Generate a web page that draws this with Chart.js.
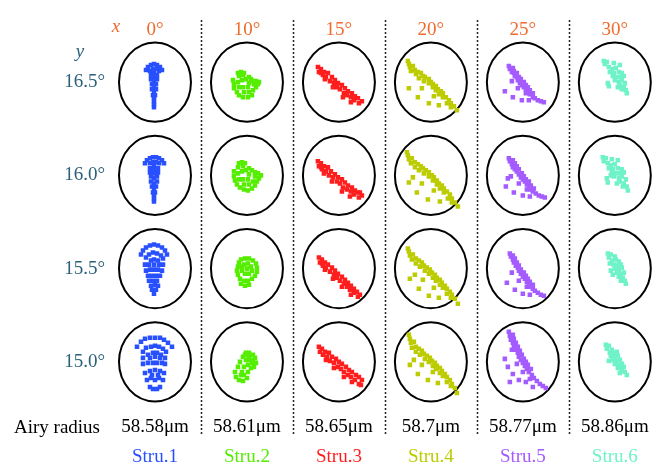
<!DOCTYPE html>
<html><head><meta charset="utf-8">
<script src="https://cdn.jsdelivr.net/npm/chart.js@4"></script>
<style>html,body{margin:0;padding:0;background:#fff}</style>
</head><body>
<canvas id="c" width="664" height="470"></canvas>
<script>
// Field angles (columns = x field, rows = y field, listed top to bottom)
const fieldX = ['0°','10°','15°','20°','25°','30°'];
const fieldY = ['16.5°','16.0°','15.5°','15.0°'];
const airyRadius = ['58.58μm','58.61μm','58.65μm','58.7μm','58.77μm','58.86μm'];
const structures = ['Stru.1','Stru.2','Stru.3','Stru.4','Stru.5','Stru.6'];
const strucColors = ['#2850ff','#55ee00','#ff1e1e','#bccc00','#a45bff','#6ff2c8'];

// Spot offsets [dx, dy(down)] relative to each cell centre, rows 16.5,16.0,15.5,15.0
const stru1 = [
 [[-9,-12],[-7,-15],[-4,-17],[-1,-18],[2,-17],[5,-15],[7,-12],[-5,-11],[-2,-13],[1,-13],[4,-11],[-1,-9],[-4,-7],[2,-7],[-1,-5],[-4,-3],[2,-3],[-1,-1],[-3,2],[1,2],[-1,4],[-3,7],[1,7],[-1,10],[-2,13],[0,13],[-1,16],[-1,19],[-1,22],[-1,25]],
 [[-10,-12],[-8,-15],[-5,-17],[-2,-18],[1,-18],[4,-17],[7,-15],[9,-12],[-5,-12],[-2,-13],[1,-13],[4,-12],[-1,-9],[-5,-7],[3,-7],[-1,-6],[-5,-3],[3,-3],[-1,-2],[-4,1],[2,1],[-1,3],[-4,6],[2,6],[-1,8],[-3,11],[1,11],[-1,14],[-2,17],[0,17],[-1,20],[-1,23],[-1,26]],
 [[-14,-14],[-12,-18],[-9,-21],[-5,-23],[-1,-24],[3,-23],[7,-21],[10,-18],[12,-14],[-9,-11],[-6,-14],[-2,-16],[2,-15],[6,-13],[8,-10],[-4,-8],[-1,-9],[3,-8],[-10,-4],[-6,-4],[-1,-4],[4,-4],[8,-4],[-9,2],[-5,1],[-1,1],[3,1],[7,2],[-7,7],[-3,7],[1,7],[5,7],[-6,12],[-2,12],[2,12],[-4,17],[0,16],[3,17],[-3,21],[1,21],[-1,25]],
 [[-18,-15],[-14,-20],[-10,-23],[-5,-24],[0,-24],[5,-24],[9,-22],[13,-19],[17,-15],[-12,-10],[-9,-14],[-4,-15],[0,-16],[4,-15],[8,-13],[11,-10],[-7,-7],[-2,-9],[2,-9],[6,-7],[-12,-4],[-5,-4],[0,-5],[5,-4],[10,-4],[-12,2],[-7,1],[-2,1],[2,1],[7,1],[10,2],[-10,11],[-5,9],[0,8],[5,9],[9,11],[-3,13],[3,13],[-8,18],[-4,16],[0,18],[4,16],[8,18],[-5,25],[-2,27],[2,27],[5,25]]
];
const stru2 = [
 [[-9,-9],[-6,-10],[-3,-9],[-8,-6],[-4,-7],[2,-5],[4,-3],[6,-1],[9,-1],[12,0],[7,2],[11,2],[9,5],[-14,-2],[-13,2],[-13,6],[-10,10],[-8,13],[-4,15],[1,15],[5,13],[-9,0],[-5,-2],[-1,-3],[2,1],[1,5],[-4,5],[-8,5],[-3,10],[2,10],[6,8]],
 [[-8,-12],[-5,-13],[-2,-12],[-9,-8],[-4,-9],[2,-7],[5,-5],[8,-3],[11,-2],[14,0],[8,1],[12,3],[10,6],[-13,-4],[-13,1],[-12,5],[-10,9],[-7,12],[-3,14],[1,15],[5,13],[8,10],[-9,-2],[-5,-4],[-1,-5],[2,-1],[1,4],[-4,4],[-8,4],[-3,9],[2,9],[6,6]],
 [[-6,-9],[-2,-10],[2,-10],[6,-8],[9,-5],[10,-1],[10,3],[8,7],[5,10],[1,12],[-3,12],[-7,10],[-9,6],[-10,2],[-9,-2],[-8,-6],[-3,-4],[1,-5],[4,-2],[5,2],[2,5],[-2,5],[-5,2],[-5,-2],[0,0],[-6,15],[-2,17],[2,16]],
 [[-1,-9],[2,-9],[6,-7],[8,-4],[9,1],[7,5],[-4,-5],[-7,0],[-9,5],[-12,10],[-11,15],[-8,18],[-4,19],[0,16],[-1,-2],[2,-2],[1,3],[-3,5],[-5,10],[-3,13],[1,10],[4,6],[5,1],[-6,13],[2,-5],[6,-2],[-2,-7]]
];
const stru3 = [
 [[-21,-15],[-18,-13],[-15,-10],[-11,-9],[-7,-5],[-4,-2],[-1,1],[3,3],[6,6],[9,9],[13,11],[16,14],[19,16],[23,19],[-20,-10],[-16,-7],[-13,-5],[-9,-1],[-5,1],[-2,5],[1,7],[5,11],[8,13],[12,15],[15,18],[20,21],[-14,-3],[-6,5],[4,15],[12,20],[-18,-9]],
 [[-21,-14],[-18,-12],[-15,-9],[-11,-8],[-8,-4],[-4,-1],[-1,2],[3,4],[6,7],[9,10],[13,12],[16,15],[19,17],[23,20],[-20,-9],[-17,-6],[-13,-4],[-10,0],[-6,2],[-2,6],[1,8],[4,12],[8,14],[12,16],[15,19],[20,22],[-15,-2],[-7,6],[3,16],[11,21],[-18,-8],[21,17]],
 [[-20,-11],[-17,-9],[-14,-6],[-11,-4],[-7,-1],[-4,2],[-1,5],[3,8],[6,11],[9,14],[12,17],[15,20],[18,23],[21,26],[-19,-6],[-16,-3],[-13,-1],[-9,3],[-5,6],[-2,9],[1,12],[5,15],[8,18],[11,21],[15,24],[19,28],[-14,1],[-6,10],[3,18],[12,26],[-17,-5]],
 [[-20,-15],[-17,-13],[-14,-10],[-10,-9],[-7,-5],[-3,-3],[0,0],[3,2],[7,5],[10,8],[13,10],[17,13],[20,15],[23,18],[-19,-10],[-16,-7],[-12,-5],[-9,-1],[-5,1],[-1,5],[2,7],[5,10],[9,13],[12,15],[16,18],[20,22],[-13,-2],[-5,6],[5,15],[13,20],[22,23]]
];
const stru4 = [
 [[-23,-21],[-22,-18],[-21,-15],[-18,-16],[-16,-12],[-13,-10],[-10,-9],[-8,-6],[-6,-5],[-2,-3],[0,0],[2,2],[5,4],[7,7],[10,9],[12,11],[15,15],[18,18],[20,21],[23,24],[26,28],[-20,-11],[-15,-8],[-12,-4],[-7,-1],[-2,1],[2,5],[5,8],[8,12],[12,15],[16,21],[20,25],[-22,6],[-13,15],[-9,6],[-2,21],[8,23],[3,14]],
 [[-24,-23],[-23,-20],[-22,-16],[-19,-17],[-16,-13],[-13,-11],[-10,-9],[-8,-7],[-5,-5],[-2,-3],[1,0],[3,2],[6,5],[8,8],[11,10],[13,13],[16,16],[19,19],[21,23],[24,27],[27,31],[-20,-12],[-16,-8],[-12,-5],[-7,-2],[-2,1],[2,5],[6,9],[9,13],[13,17],[17,23],[21,27],[-22,7],[-14,17],[-9,8],[-3,24],[9,26],[3,15],[-18,2]],
 [[-23,-20],[-22,-17],[-21,-13],[-18,-14],[-15,-10],[-12,-8],[-9,-6],[-7,-3],[-4,-1],[-1,1],[1,4],[4,6],[6,9],[9,11],[11,14],[14,17],[16,20],[19,23],[21,26],[24,30],[27,35],[-19,-9],[-15,-5],[-11,-2],[-6,2],[-2,5],[2,9],[5,12],[9,16],[12,19],[16,25],[20,29],[-21,10],[-12,20],[-8,11],[-2,27],[8,29],[3,19],[-16,6]],
 [[-22,-27],[-21,-23],[-20,-19],[-17,-20],[-15,-15],[-12,-13],[-9,-11],[-7,-8],[-4,-6],[-1,-4],[1,-1],[4,1],[6,4],[9,6],[11,9],[14,12],[16,15],[19,18],[21,22],[24,26],[26,31],[-19,-14],[-15,-10],[-11,-7],[-6,-3],[-2,0],[2,4],[5,7],[9,11],[12,14],[16,20],[20,24],[-21,3],[-13,12],[-9,3],[-3,18],[7,21],[2,10],[-17,-2]]
];
const stru5 = [
 [[-14,-16],[-13,-13],[-11,-10],[-9,-9],[-8,-6],[-6,-5],[-5,-2],[-3,1],[-1,3],[1,5],[3,7],[5,10],[7,12],[10,15],[12,16],[15,18],[18,19],[21,20],[-10,-14],[-9,-11],[-6,-9],[-4,-5],[-2,-3],[1,0],[3,3],[5,5],[7,8],[10,11],[-18,9],[-11,-1],[-10,15],[-5,6],[-1,18],[3,11],[6,18]],
 [[-14,-17],[-13,-14],[-11,-11],[-10,-8],[-8,-6],[-6,-4],[-4,-1],[-2,2],[0,4],[2,6],[4,9],[6,11],[8,14],[10,16],[13,18],[16,20],[19,21],[22,22],[-10,-15],[-8,-12],[-6,-9],[-4,-6],[-1,-2],[1,1],[3,4],[6,6],[8,10],[11,13],[-17,11],[-12,1],[-9,17],[-4,8],[0,20],[4,14],[7,21],[-15,3]],
 [[-13,-15],[-12,-12],[-10,-9],[-9,-6],[-7,-3],[-5,-1],[-4,2],[-2,5],[0,8],[2,10],[4,13],[6,15],[8,18],[10,20],[12,22],[15,24],[18,26],[21,27],[-10,-13],[-8,-10],[-6,-6],[-4,-3],[-2,1],[1,4],[3,7],[5,10],[7,13],[10,16],[-16,14],[-11,4],[-8,21],[-4,12],[0,25],[4,18],[7,26]],
 [[-14,-30],[-13,-26],[-12,-22],[-10,-19],[-9,-15],[-7,-12],[-5,-9],[-4,-5],[-2,-2],[0,1],[2,4],[4,7],[6,10],[9,13],[11,16],[14,19],[17,22],[20,24],[23,26],[-10,-27],[-9,-23],[-7,-19],[-5,-15],[-3,-11],[-1,-7],[1,-3],[3,0],[5,3],[8,7],[-18,-3],[-15,5],[-11,-12],[-10,12],[-6,2],[-4,18],[0,10],[3,20],[7,17],[-13,20],[10,25]]
];
const stru6 = [
 [[-11,-21],[-8,-20],[-10,-18],[-1,-19],[5,-17],[-6,-15],[-3,-13],[1,-14],[-5,-10],[-1,-9],[4,-10],[7,-9],[-2,-6],[1,-5],[5,-5],[9,-6],[0,-2],[4,0],[7,-2],[10,1],[-7,1],[-6,4],[5,3],[9,5],[11,8],[12,11],[7,7],[3,5]],
 [[-12,-18],[-9,-17],[-11,-14],[-3,-16],[3,-15],[-7,-12],[-4,-10],[0,-11],[-6,-7],[-2,-6],[3,-7],[7,-6],[-3,-3],[1,-2],[5,-2],[9,-3],[-1,1],[4,3],[7,1],[11,4],[-8,3],[-7,7],[5,6],[9,8],[12,11],[13,15],[8,11],[2,8],[-4,0]],
 [[-7,-15],[-4,-14],[-6,-11],[0,-12],[-3,-8],[1,-9],[4,-7],[-5,-5],[-1,-4],[3,-3],[6,-4],[0,0],[4,1],[7,-1],[-4,2],[2,4],[6,5],[9,4],[4,8],[8,9],[10,12],[6,12],[11,15],[-2,6]],
 [[-9,-17],[-6,-16],[-8,-13],[-3,-12],[-5,-9],[-1,-9],[2,-10],[-4,-6],[0,-5],[3,-6],[-2,-2],[2,-1],[5,-2],[0,2],[4,3],[7,2],[-6,-1],[3,6],[6,6],[9,5],[7,9],[10,10],[12,13],[5,11]]
];
const spotSets = [stru1, stru2, stru3, stru4, stru5, stru6];

// Layout constants (styles / sizes)
const CELL_W = 92, CELL_H = 93;
const RX = 36, RY = 39.5;
const SERIF = "'Liberation Serif', 'Times New Roman', serif";
const X_COLOR = '#ef6a2b', Y_COLOR = '#2b6079';

const rowVal = k => (fieldY.length - 1 - k) * CELL_H;
const colVal = i => i * CELL_W;

const datasets = [];
spotSets.forEach((rows, s) => rows.forEach((pts, k) => {
  datasets.push({
    data: pts.map(([dx, dy]) => ({ x: colVal(s) + dx, y: rowVal(k) - dy })),
    backgroundColor: strucColors[s], borderWidth: 0,
    pointStyle: 'rect', pointRadius: 3.2, pointHoverRadius: 3.2
  });
}));

const xMin = -CELL_W / 2, xMax = colVal(fieldX.length - 1) + CELL_W / 2;
const colTicks = s => { s.ticks = fieldX.map((_, i) => ({ value: colVal(i) })); };
const noGrid = { display: false, drawTicks: false };

const decor = {
  id: 'decor',
  beforeDatasetsDraw(chart) {
    const { ctx } = chart, xs = chart.scales.x, ys = chart.scales.y;
    ctx.save();
    // dotted dividers
    ctx.strokeStyle = '#222'; ctx.lineWidth = 1.5; ctx.setLineDash([2, 2]);
    for (let i = 0; i < fieldX.length - 1; i++) {
      const px = Math.round(xs.getPixelForValue(colVal(i) + CELL_W / 2)) + 0.5;
      ctx.beginPath(); ctx.moveTo(px, 20); ctx.lineTo(px, 436); ctx.stroke();
    }
    ctx.setLineDash([]);
    // Airy disc outlines
    ctx.strokeStyle = '#000'; ctx.lineWidth = 2;
    fieldX.forEach((_, i) => fieldY.forEach((__, k) => {
      const cx = xs.getPixelForValue(colVal(i)), cy = ys.getPixelForValue(rowVal(k));
      const rx = xs.getPixelForValue(colVal(i) + RX) - cx;
      const ry = cy - ys.getPixelForValue(rowVal(k) + RY);
      ctx.beginPath(); ctx.ellipse(cx, cy, rx, ry, 0, 0, Math.PI * 2); ctx.stroke();
    }));
    ctx.restore();
  },
  afterDraw(chart) {
    const { ctx } = chart;
    ctx.save();
    ctx.textBaseline = 'middle'; ctx.textAlign = 'center';
    ctx.font = 'italic 19px ' + SERIF;
    ctx.fillStyle = X_COLOR; ctx.fillText('x', 116, 27);
    ctx.fillStyle = Y_COLOR; ctx.fillText('y', 80, 52);
    ctx.font = '19px ' + SERIF; ctx.fillStyle = '#000'; ctx.textAlign = 'left';
    ctx.fillText('Airy radius', 14, 428);
    ctx.restore();
  }
};

new Chart(document.getElementById('c'), {
  type: 'scatter',
  data: { datasets },
  plugins: [decor],
  options: {
    responsive: false, animation: false, events: [],
    layout: { padding: { left: 0, right: 3, top: 0, bottom: 0 } },
    plugins: { legend: { display: false }, tooltip: { enabled: false } },
    scales: {
      x: {
        type: 'linear', position: 'top', min: xMin, max: xMax,
        afterBuildTicks: colTicks,
        afterFit: s => { s.height = 35; },
        grid: noGrid, border: { display: false },
        ticks: { callback: (v, i) => fieldX[i], color: X_COLOR, padding: -5, maxRotation: 0, autoSkip: false,
                 font: { family: SERIF, size: 19, lineHeight: 1 } }
      },
      x2: {
        type: 'linear', position: 'bottom', weight: 0, min: xMin, max: xMax,
        afterBuildTicks: colTicks,
        afterFit: s => { s.height = 33; },
        grid: noGrid, border: { display: false },
        ticks: { callback: (v, i) => airyRadius[i], color: '#000', padding: 7, maxRotation: 0, autoSkip: false,
                 font: { family: SERIF, size: 19 } }
      },
      x3: {
        type: 'linear', position: 'bottom', weight: 1, min: xMin, max: xMax,
        afterBuildTicks: colTicks,
        afterFit: s => { s.height = 28; },
        grid: noGrid, border: { display: false },
        ticks: { callback: (v, i) => structures[i], color: c => strucColors[c.index], padding: 4, maxRotation: 0, autoSkip: false,
                 font: { family: SERIF, size: 19 } }
      },
      y: {
        type: 'linear', position: 'left', min: -47, max: rowVal(0) + 47,
        afterBuildTicks: s => { s.ticks = fieldY.map((_, k) => ({ value: rowVal(k) })); },
        afterFit: s => { s.width = 109; },
        grid: noGrid, border: { display: false },
        ticks: { callback: v => fieldY[fieldY.length - 1 - Math.round(v / CELL_H)], color: Y_COLOR, padding: 4, autoSkip: false,
                 font: { family: SERIF, size: 19 } }
      }
    }
  }
});
</script>
</body></html>
